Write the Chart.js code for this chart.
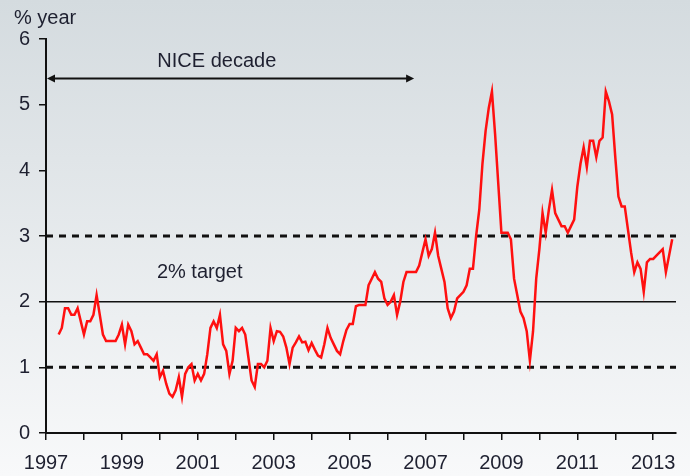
<!DOCTYPE html>
<html>
<head>
<meta charset="utf-8">
<script src="https://cdn.jsdelivr.net/npm/chart.js@4.4.0/dist/chart.umd.min.js"></script>
<style>
    html, body { margin: 0; padding: 0; background: #fff; }
</style>
</head>
<body>
<canvas id="inflationChart" width="690" height="476"></canvas>
<script>
// CPI inflation, % year, monthly from May 1997
const firstYear = 1997;
const firstMonth = 4; // May (0 = Jan)

const cpi1997 = [1.5, 1.6, 1.9, 1.9, 1.8, 1.8, 1.9, 1.7];
const cpi1998 = [1.5, 1.7, 1.7, 1.8, 2.1, 1.8, 1.5, 1.4, 1.4, 1.4, 1.4, 1.5];
const cpi1999 = [1.65, 1.35, 1.65, 1.55, 1.35, 1.4, 1.3, 1.2, 1.2, 1.15, 1.1, 1.2];
const cpi2000 = [0.85, 0.95, 0.75, 0.6, 0.55, 0.65, 0.85, 0.55, 0.9, 1.0, 1.05, 0.8];
const cpi2001 = [0.9, 0.8, 0.9, 1.2, 1.6, 1.7, 1.6, 1.8, 1.35, 1.25, 0.9, 1.1];
const cpi2002 = [1.6, 1.55, 1.6, 1.5, 1.15, 0.8, 0.7, 1.05, 1.05, 1.0, 1.1, 1.6];
const cpi2003 = [1.4, 1.55, 1.54, 1.47, 1.3, 1.05, 1.3, 1.38, 1.47, 1.38, 1.39, 1.26];
const cpi2004 = [1.37, 1.27, 1.18, 1.15, 1.35, 1.6, 1.45, 1.35, 1.25, 1.2, 1.4, 1.57];
const cpi2005 = [1.66, 1.66, 1.93, 1.95, 1.95, 1.95, 2.25, 2.35, 2.45, 2.35, 2.3, 2.05];
const cpi2006 = [1.95, 2.0, 2.1, 1.8, 2.0, 2.3, 2.45, 2.45, 2.45, 2.45, 2.55, 2.75];
const cpi2007 = [2.95, 2.7, 2.8, 3.05, 2.7, 2.5, 2.3, 1.9, 1.75, 1.85, 2.05, 2.1];
const cpi2008 = [2.15, 2.25, 2.5, 2.5, 3.0, 3.4, 4.1, 4.6, 4.95, 5.2, 4.55, 3.8];
const cpi2009 = [3.05, 3.05, 3.05, 2.95, 2.35, 2.1, 1.85, 1.75, 1.55, 1.1, 1.55, 2.35];
const cpi2010 = [2.8, 3.35, 3.05, 3.4, 3.7, 3.35, 3.25, 3.15, 3.15, 3.05, 3.15, 3.25];
const cpi2011 = [3.75, 4.1, 4.35, 4.05, 4.45, 4.45, 4.2, 4.45, 4.5, 5.2, 5.05, 4.85];
const cpi2012 = [4.2, 3.6, 3.45, 3.45, 3.1, 2.75, 2.45, 2.6, 2.5, 2.15, 2.6, 2.65];
const cpi2013 = [2.65, 2.7, 2.75, 2.8, 2.45, 2.7, 2.95];

const yTicks = [0, 1, 2, 3, 4, 5, 6];
const targetLine = 2;
const bandLines = [1, 3];
const axisStart = 1997;
const axisEnd = 2013.6;
const niceStart = 1997;
const niceEnd = 2006.7;

const cpiAll = [].concat(cpi1997, cpi1998, cpi1999, cpi2000, cpi2001, cpi2002, cpi2003,
    cpi2004, cpi2005, cpi2006, cpi2007, cpi2008, cpi2009, cpi2010, cpi2011, cpi2012, cpi2013);

const cpiPoints = cpiAll.map((v, i) => ({ x: firstYear + (firstMonth + i) / 12, y: v }));

const flatLine = (v) => [{ x: axisStart, y: v }, { x: axisEnd, y: v }];

const FONT = '"Liberation Sans", Arial, sans-serif';
const TEXT = '#1e2030';

// background wash
const backdrop = {
    id: 'backdrop',
    beforeDraw(chart) {
        const { ctx, width, height } = chart;
        const g = ctx.createLinearGradient(0, 0, 0, height);
        g.addColorStop(0, '#d4dbdf');
        g.addColorStop(1, '#f8f9fa');
        ctx.save();
        ctx.fillStyle = g;
        ctx.fillRect(0, 0, width, height);
        ctx.restore();
    }
};

// text + arrow
const notes = {
    id: 'notes',
    afterDraw(chart) {
        const { ctx, chartArea } = chart;
        const xs = chart.scales.x, ys = chart.scales.y;
        ctx.save();
        ctx.fillStyle = TEXT;
        ctx.font = '20px ' + FONT;
        ctx.textBaseline = 'middle';
        ctx.textAlign = 'left';
        ctx.fillText('% year', chartArea.left - 32, chartArea.top - 21);

        // NICE decade arrow
        const x1 = xs.getPixelForValue(niceStart) + 1;
        const x2 = xs.getPixelForValue(niceEnd);
        const ya = ys.getPixelForValue(5.4);
        ctx.strokeStyle = '#111';
        ctx.lineWidth = 2;
        ctx.beginPath();
        ctx.moveTo(x1 + 4, ya);
        ctx.lineTo(x2 - 4, ya);
        ctx.stroke();
        ctx.fillStyle = '#111';
        ctx.beginPath();
        ctx.moveTo(x1, ya); ctx.lineTo(x1 + 8, ya - 4); ctx.lineTo(x1 + 8, ya + 4); ctx.closePath();
        ctx.fill();
        ctx.beginPath();
        ctx.moveTo(x2, ya); ctx.lineTo(x2 - 8, ya - 4); ctx.lineTo(x2 - 8, ya + 4); ctx.closePath();
        ctx.fill();

        ctx.fillStyle = TEXT;
        ctx.textAlign = 'center';
        ctx.fillText('NICE decade', xs.getPixelForValue(2001.5), ys.getPixelForValue(5.66));
        ctx.fillText('2% target', xs.getPixelForValue(2001.05), ys.getPixelForValue(2.44));
        ctx.restore();
    }
};

const ctx = document.getElementById('inflationChart').getContext('2d');
new Chart(ctx, {
    type: 'line',
    data: {
        datasets: [
            {
                label: 'CPI inflation',
                data: cpiPoints,
                borderColor: '#ff1010',
                borderWidth: 2.5,
                pointRadius: 0,
                tension: 0
            },
            {
                label: 'target',
                data: flatLine(targetLine),
                borderColor: '#111',
                borderWidth: 1.5,
                pointRadius: 0
            },
            {
                label: 'lower',
                data: flatLine(bandLines[0]),
                borderColor: '#111',
                borderWidth: 3,
                borderDash: [7, 6],
                pointRadius: 0
            },
            {
                label: 'upper',
                data: flatLine(bandLines[1]),
                borderColor: '#111',
                borderWidth: 3,
                borderDash: [7, 6],
                pointRadius: 0
            }
        ]
    },
    options: {
        responsive: false,
        animation: false,
        layout: { padding: { top: 39, right: 14, left: 0, bottom: 0 } },
        plugins: {
            legend: { display: false },
            tooltip: { enabled: false }
        },
        scales: {
            x: {
                type: 'linear',
                min: axisStart,
                max: axisEnd,
                border: { color: '#111', width: 2 },
                grid: { drawOnChartArea: false, tickLength: 7, color: '#111', lineWidth: 1.5 },
                ticks: {
                    stepSize: 1,
                    includeBounds: false,
                    autoSkip: false,
                    maxRotation: 0,
                    padding: 11,
                    color: TEXT,
                    font: { family: FONT, size: 20 },
                    callback: (v) => (v % 2 === 1 ? String(v) : '')
                },
                afterFit: (s) => { s.height = 43; }
            },
            y: {
                min: yTicks[0],
                max: yTicks[yTicks.length - 1],
                border: { color: '#111', width: 2 },
                grid: { drawOnChartArea: false, tickLength: 7, color: '#111', lineWidth: 1.5 },
                ticks: {
                    stepSize: 1,
                    padding: 9,
                    color: TEXT,
                    font: { family: FONT, size: 20 }
                },
                afterFit: (s) => { s.width = 46; }
            }
        }
    },
    plugins: [backdrop, notes]
});
</script>
</body>
</html>
